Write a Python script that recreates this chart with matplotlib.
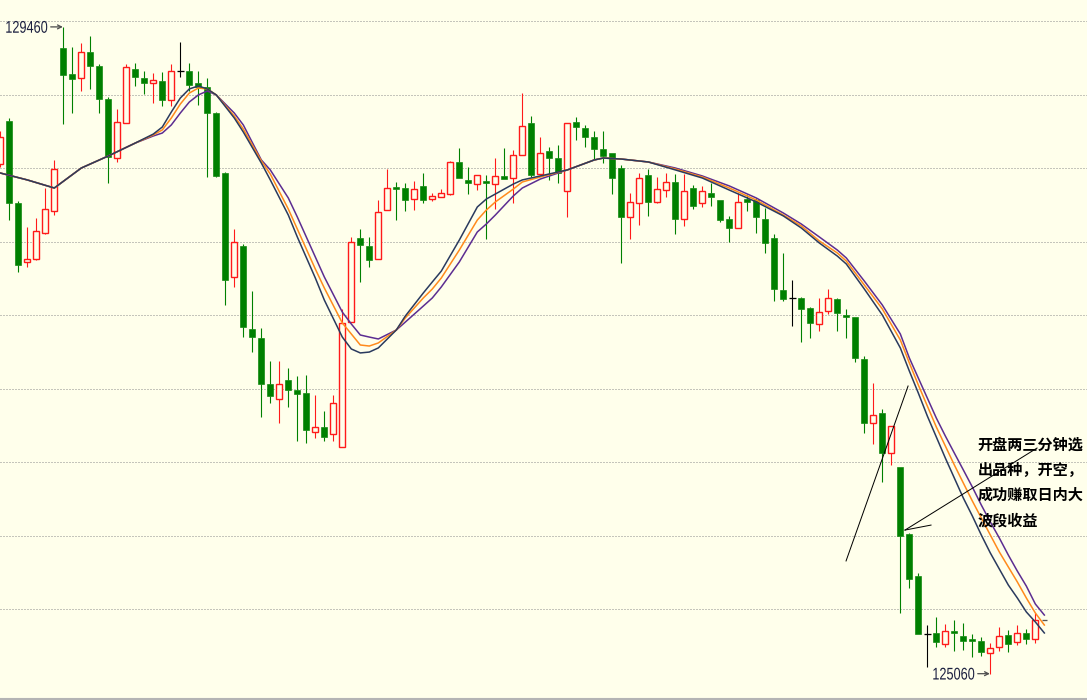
"""分時K線チャートの再現.
ローソク足 + 移動平均線3本 + 注釈テキスト.
"""
import matplotlib
matplotlib.use('Agg')
import matplotlib.pyplot as plt
import matplotlib.transforms as mtransforms
from matplotlib.lines import Line2D
from matplotlib.patches import PathPatch
from matplotlib.textpath import TextPath
from matplotlib.font_manager import FontProperties
import numpy as np

# ローソク足データ
opens = [128524, 128820, 128262, 127861, 127881, 128058, 128207, 129316, 129139, 129112,
         129289, 129194, 128969, 128568, 128806, 129173, 129112, 129078, 129092, 128963,
         129160, 129160, 129078, 129051, 128874, 128466, 127758, 127970, 127405, 127343,
         127031, 126929, 127058, 126990, 126969, 126704, 126738, 126690, 126602, 127453,
         128024, 127970, 127881, 128214, 128371, 128364, 128289, 128378, 128289, 128303,
         128323, 128541, 128418, 128391, 128412, 128391, 128446, 128432, 128588, 128806,
         128459, 128616, 128568, 128344, 128813, 128772, 128711, 128629, 128602, 128500,
         128167, 128262, 128452, 128269, 128350, 128405, 128153, 128364, 128262, 128330,
         128282, 128153, 128092, 128289, 128282, 128153, 128024, 127670, 127616, 127616,
         127548, 127439, 127527, 127609, 127500, 127486, 127200, 126765, 126833, 126561,
         126466, 126010, 125725, 125330, 125337, 125262, 125350, 125316, 125296, 125282,
         125201, 125241, 125323, 125275, 125337, 125296]
highs = [128752, 128840, 128276, 128099, 128160, 128364, 128554, 129460, 129323, 129350,
         129398, 129208, 128983, 128901, 129208, 129214, 129160, 129146, 129153, 129208,
         129357, 129214, 129160, 129112, 128881, 128473, 128085, 127983, 127663, 127411,
         127187, 127187, 127139, 127085, 127092, 126956, 126847, 126956, 127541, 128030,
         128085, 128030, 128282, 128493, 128405, 128398, 128412, 128466, 128330, 128357,
         128548, 128636, 128507, 128452, 128452, 128568, 128636, 128622, 129010, 128854,
         128711, 128643, 128657, 128806, 128847, 128793, 128752, 128752, 128602, 128520,
         128330, 128466, 128493, 128439, 128466, 128459, 128459, 128384, 128378, 128398,
         128282, 128173, 128330, 128316, 128296, 128228, 128051, 127922, 127738, 127622,
         127554, 127616, 127677, 127616, 127541, 127486, 127221, 127037, 126861, 126745,
         126466, 126017, 125745, 125391, 125446, 125398, 125425, 125405, 125330, 125309,
         125268, 125378, 125357, 125391, 125364, 125473]
lows = [128507, 128146, 127793, 127827, 127874, 128051, 128180, 128799, 128874, 129024,
        129037, 128874, 128398, 128541, 128806, 129058, 129003, 128942, 128922, 128922,
        129119, 129024, 128929, 128441, 128441, 127566, 127690, 127350, 127248, 126806,
        126901, 126765, 126874, 126643, 126629, 126663, 126643, 126643, 126602, 127453,
        127725, 127827, 127881, 128214, 128146, 128207, 128214, 128262, 128276, 128303,
        128316, 128432, 128323, 128350, 128017, 128221, 128425, 128262, 128588, 128441,
        128452, 128418, 128398, 128167, 128690, 128643, 128561, 128534, 128323, 127856,
        128017, 128112, 128173, 128262, 128303, 128051, 128105, 128221, 128235, 128242,
        128133, 128000, 128092, 128207, 128058, 127922, 127595, 127595, 127425, 127316,
        127343, 127391, 127507, 127391, 127343, 127180, 126698, 126622, 126364, 126480,
        125470, 125643, 125330, 125107, 125241, 125241, 125214, 125222, 125173, 125180,
        125060, 125214, 125207, 125255, 125262, 125269]
closes = [128711, 128262, 127840, 127881, 128071, 128221, 128493, 129133, 129105, 129289,
          129194, 128969, 128575, 128813, 129187, 129119, 129078, 129099, 128963, 129160,
          129160, 129065, 129051, 128874, 128446, 127738, 127997, 127418, 127350, 127031,
          126949, 127031, 126990, 126963, 126718, 126738, 126670, 126901, 127446, 127997,
          127976, 127874, 128201, 128364, 128357, 128282, 128357, 128282, 128310, 128330,
          128541, 128432, 128398, 128452, 128398, 128446, 128425, 128588, 128786, 128452,
          128602, 128568, 128466, 128806, 128779, 128711, 128629, 128582, 128432, 128167,
          128269, 128432, 128269, 128357, 128405, 128153, 128344, 128241, 128344, 128303,
          128146, 128092, 128269, 128269, 128167, 127990, 127677, 127609, 127616, 127541,
          127446, 127521, 127616, 127514, 127486, 127207, 126765, 126820, 126561, 126745,
          125997, 125704, 125330, 125330, 125275, 125350, 125337, 125282, 125282, 125207,
          125235, 125316, 125262, 125337, 125296, 125426]

# 移動平均線 (画像から読み取った値, x はローソク足の番号)
ma_idx = [0, 3, 6, 9, 12, 15, 17, 18, 19, 20, 21, 22, 23, 24, 26, 27, 29, 30, 32, 33,
          35, 36, 38, 39, 40, 41, 42, 44, 45, 47, 48, 49, 51, 53, 54, 55, 57, 58, 60, 63,
          66, 67, 69, 72, 75, 78, 81, 84, 87, 89, 91, 93, 94, 96, 98, 100, 101, 102, 103,
          104, 105, 106, 107, 108, 109, 110, 111, 112, 113, 114, 115, 116]
ma_fast = [128466, 128419, 128364, 128500, 128582, 128670, 128731, 128779, 128881, 128976,
           129038, 129058, 129038, 128997, 128840, 128745, 128534, 128419, 128180, 128031,
           127752, 127602, 127350, 127269, 127242, 127248, 127276, 127398, 127493, 127650,
           127725, 127799, 128010, 128235, 128289, 128323, 128391, 128419, 128446, 128487,
           128555, 128568, 128561, 128541, 128487, 128432, 128350, 128269, 128174, 128092,
           127990, 127901, 127847, 127677, 127500, 127276, 127119, 126969, 126813, 126670,
           126527, 126391, 126255, 126133, 126003, 125881, 125772, 125663, 125575, 125480,
           125412, 125337]
ma_mid = [128466, 128419, 128364, 128500, 128582, 128670, 128725, 128759, 128840, 128935,
          129010, 129044, 129038, 128997, 128854, 128765, 128548, 128459, 128221, 128085,
          127813, 127684, 127446, 127371, 127296, 127289, 127310, 127398, 127480, 127616,
          127677, 127752, 127942, 128146, 128214, 128269, 128357, 128405, 128439, 128487,
          128555, 128568, 128561, 128541, 128493, 128439, 128364, 128282, 128180, 128106,
          128004, 127922, 127867, 127704, 127541, 127330, 127174, 127024, 126881, 126738,
          126609, 126480, 126357, 126235, 126119, 126003, 125888, 125786, 125684, 125575,
          125473, 125391]
ma_slow = [128466, 128419, 128364, 128500, 128582, 128670, 128718, 128738, 128793, 128874,
           128949, 128997, 129024, 128997, 128874, 128793, 128555, 128487, 128296, 128167,
           127895, 127759, 127520, 127439, 127364, 127350, 127337, 127398, 127452, 127561,
           127616, 127691, 127861, 128065, 128119, 128180, 128310, 128364, 128425, 128487,
           128555, 128568, 128561, 128541, 128500, 128446, 128378, 128296, 128194, 128119,
           128031, 127942, 127888, 127731, 127568, 127371, 127208, 127071, 126935, 126799,
           126677, 126561, 126446, 126330, 126207, 126092, 125983, 125867, 125758, 125656,
           125534, 125459]

# 価格の目盛り線
grid_levels = [125500, 126000, 126500, 127000, 127500, 128000, 128500, 129000, 129500]

# 注釈テキストと指示線 (ローソク足番号, 価格)
note_lines = ["开盘两三分钟选", "出品种，开空，", "成功赚取日内大", "波段收益"]
note_x = 108.6
note_y = [126616, 126446, 126275, 126105]
pointer_lines = [
    [(93.97, 125827), (100.86, 127017)],
    [(100.52, 126037), (115.19, 126595)],
    [(100.52, 126037), (103.41, 126071)],
]

BG = '#ffffeb'
RED = '#ff1a1a'
GREEN = '#008000'
PX = 0.72  # 1ピクセル分の線幅(pt)


def draw_number(ax, fig, text, idx, val, width_px=41, height_px=12, gap_px=3):
    """縦長の数字ラベルを描く (右端を idx の少し左に合わせる)."""
    tp = TextPath((0, 0), text, prop=FontProperties(family='Liberation Sans', size=10))
    bb = tp.get_extents()
    xd, yd = ax.transData.transform((idx, val))
    trans = (mtransforms.Affine2D()
             .translate(-bb.x1, -(bb.y0 + bb.y1) / 2)
             .scale(width_px / bb.width, height_px / bb.height)
             .translate(xd - gap_px, yd))
    fig.add_artist(PathPatch(tp, transform=trans, facecolor='#1c2040',
                             edgecolor='none', zorder=4))


fig = plt.figure(figsize=(10.87, 7.0), dpi=100)
fig.patch.set_facecolor(BG)
ax = fig.add_axes([0, 0, 1, 1])
ax.set_facecolor(BG)
ax.set_xlim(-0.033, 120.74)
ax.set_ylim(124881, 129643)
ax.axis('off')

# 目盛り線(点線)
for lv in grid_levels:
    ax.axhline(lv, color='#8c8c8c', lw=PX, ls=(0, (1, 2)), zorder=0)

x = np.arange(len(closes))
o = np.array(opens)
h = np.array(highs)
lo = np.array(lows)
c = np.array(closes)
body_lo = np.minimum(o, c)
body_hi = np.maximum(o, c)
up = c > o
down = c < o
flat = c == o

# ヒゲ
for mask, col in [(up, RED), (down, GREEN), (flat, 'black')]:
    ax.vlines(x[mask], lo[mask], body_lo[mask], color=col, lw=PX * 1.1, zorder=2)
    ax.vlines(x[mask], body_hi[mask], h[mask], color=col, lw=PX * 1.1, zorder=2)

# 陽線(中抜き) / 陰線(塗りつぶし)
ax.bar(x[up], (body_hi - body_lo)[up], bottom=body_lo[up], width=0.68,
       facecolor=BG, edgecolor=RED, lw=PX * 1.4, zorder=2)
ax.bar(x[down], np.maximum((body_hi - body_lo)[down], 7), bottom=body_lo[down],
       width=0.7, facecolor=GREEN, edgecolor=GREEN, lw=PX * 0.6, zorder=2)
ax.hlines(o[flat], x[flat] - 0.38, x[flat] + 0.38, color='black', lw=PX * 1.3, zorder=2)

# 移動平均線
ax.plot(ma_idx, ma_slow, color='#5c2d91', lw=1.1, zorder=3)
ax.plot(ma_idx, ma_mid, color='#ff8a1c', lw=1.1, zorder=3)
ax.plot(ma_idx, ma_fast, color='#2a3a5e', lw=1.1, zorder=3)

# 最終値のマーク
ax.hlines(closes[-1], len(closes) - 0.3, len(closes) + 0.3, color='#555555', lw=PX * 1.3, zorder=3)

# 最高値・最安値ラベル (数値 + 矢印)
i_hi = int(np.argmax(h))
i_lo = int(np.argmin(lo))
for idx, val in [(i_hi, h[i_hi]), (i_lo, lo[i_lo])]:
    draw_number(ax, fig, f"{val:.0f}", idx - 1.45, val)
    ax.annotate('', xy=(idx - 0.05, val), xytext=(idx - 1.4, val),
                arrowprops=dict(arrowstyle='->', color='#505050', lw=PX * 1.3,
                                shrinkA=0, shrinkB=0, mutation_scale=7),
                zorder=4)

# 指示線
for seg in pointer_lines:
    xs, ys = zip(*seg)
    ax.plot(xs, ys, color='black', lw=PX, zorder=4)

# 注釈テキスト
for line, yy in zip(note_lines, note_y):
    ax.text(note_x, yy, line, ha='left', va='center', fontsize=10.9,
            fontweight='bold', color='black',
            family=['Noto Sans CJK SC', 'DejaVu Sans'], zorder=5)

# 下端の枠線
fig.add_artist(Line2D([0, 1], [1.5 / 700, 1.5 / 700], transform=fig.transFigure,
                      color='#b4b4b4', lw=1.5))

fig.savefig('out.png', dpi=100, facecolor=BG)
